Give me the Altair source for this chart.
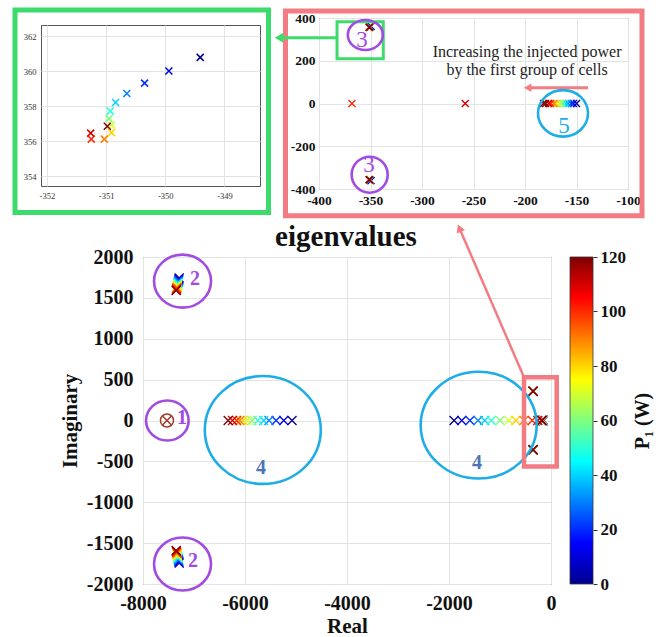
import altair as alt
import pandas as pd

SERIF = "Liberation Serif"

# Injected power of the first group of cells (W)
power = [0, 10, 20, 30, 40, 50, 60, 70, 80, 90, 100, 110, 120]

# Eigenvalue branches, one value per power level
mode2_re = [-7290, -7295, -7300, -7305, -7310, -7315, -7320, -7325, -7330, -7335, -7340, -7345, -7350]
mode2_im = [1745, 1730, 1715, 1700, 1688, 1676, 1664, 1652, 1640, 1628, 1615, 1600, 1590]
mode3_re = [-349.41, -349.94, -350.35, -350.65, -350.84, -350.93, -350.95, -350.91, -350.91, -351.03, -351.25, -351.26, -350.98]
mode3_im = [360.80, 360.02, 359.33, 358.74, 358.22, 357.73, 357.30, 356.93, 356.50, 356.13, 356.13, 356.47, 356.86]
mode4a_re = [-5078, -5240, -5390, -5530, -5635, -5745, -5863, -5955, -6035, -6100, -6165, -6245, -6330]
mode4b_re = [-1900, -1750, -1590, -1430, -1300, -1170, -1000, -830, -690, -530, -368, -258, -182]
mode5_re = [-150, -153, -155, -158, -160, -163, -165, -167, -170, -172, -175, -177, -180]
mode1_re = [-7530.0]
mode1_im = [0.0]

# Tick values
main_xticks = [-8000, -6000, -4000, -2000, 0]
main_yticks = [-2000, -1500, -1000, -500, 0, 500, 1000, 1500, 2000]
cbar_ticks = [0, 20, 40, 60, 80, 100, 120]
zoom_xticks = [-400, -350, -300, -250, -200, -150, -100]
zoom_yticks = [-400, -200, 0, 200, 400]
detail_xticks = [-352, -351, -350, -349]
detail_yticks = [354, 356, 358, 360, 362]

# Jet colour map stops
jet_pos = [0, 15, 45, 75, 105, 120]
jet_col = ["#00008F", "#0000FF", "#00FFFF", "#FFFF00", "#FF0000", "#800000"]

rows = []
for i, p in enumerate(power):
    rows += [
        (p, mode2_re[i], mode2_im[i]), (p, mode2_re[i], -mode2_im[i]),
        (p, mode3_re[i], mode3_im[i]), (p, mode3_re[i], -mode3_im[i]),
        (p, mode4a_re[i], 0.0), (p, mode4b_re[i], 0.0), (p, mode5_re[i], 0.0),
    ]
eig = pd.DataFrame(rows, columns=["P", "re", "im"])
mode1 = pd.DataFrame({"re": mode1_re, "im": mode1_im})
one = pd.DataFrame({"a": [0]})

PURPLE = "#A24BE3"
CYAN = "#1EADE6"
STEEL = "#4A76B8"
PINK = "#F37B82"
GREEN = "#3DDB6B"
BROWN = "#A33A2A"
XMARK = "M -1 -1 L 1 1 M -1 1 L 1 -1"

cscale = alt.Scale(domain=jet_pos, range=jet_col, interpolate="rgb")


def ellipse(k):
    return f"M -1 0 A 1 {k} 0 1 1 1 0 A 1 {k} 0 1 1 -1 0 Z"


def axis(values, title=None, size=20, bold=True, lpad=10, color="#111", **kw):
    return alt.Axis(values=values, title=title, labelExpr="toString(datum.value)",
                    labelFont=SERIF, labelFontSize=size,
                    labelFontWeight="bold" if bold else "normal", labelColor=color,
                    titleFont=SERIF, titleFontSize=21, titleFontWeight="bold", titleColor="#111",
                    ticks=False, domain=False, grid=True, gridColor="#e3e3e3",
                    labelFlush=False, labelOverlap=False, labelPadding=lpad, **kw)


def anchor(x1, x2, y1, y2):
    # transparent diagonal that fixes the extent of a panel in the layout
    return alt.Chart(one).mark_rule(strokeOpacity=0).encode(
        x=alt.value(x1), x2=alt.value(x2), y=alt.value(y1), y2=alt.value(y2))


def spacer(w, h):
    return anchor(0, w, 0, h).properties(width=w, height=h,
                                         view=alt.ViewBackground(stroke="transparent"))


# ---------------- main eigenvalue map ----------------
xs_m = alt.Scale(domain=[-8000, 0], nice=False, zero=False)
ys_m = alt.Scale(domain=[-2000, 2000], nice=False, zero=False)
ax_mx = axis(main_xticks, "Real", lpad=9, titlePadding=2)
ax_my = axis(main_yticks, "Imaginary", titlePadding=6)
XM = lambda f: alt.X(f, type="quantitative", scale=xs_m, axis=ax_mx)
YM = lambda f: alt.Y(f, type="quantitative", scale=ys_m, axis=ax_my)

main_pts = alt.Chart(eig).mark_point(shape=XMARK, filled=False, size=81, strokeWidth=1.3, opacity=1).encode(
    x=XM("re"), y=YM("im"),
    color=alt.Color("P:Q", scale=cscale, legend=None),
)
mode1_circ = alt.Chart(mode1).mark_point(shape="circle", filled=False, size=169, strokeWidth=1.5,
                                         color=BROWN, opacity=1).encode(x=XM("re"), y=YM("im"))
mode1_x = alt.Chart(mode1).mark_point(shape=XMARK, filled=False, size=70, strokeWidth=1.5,
                                      color=BROWN, opacity=1).encode(x=XM("re"), y=YM("im"))

main_rings = pd.DataFrame({
    "re": [-7225, -7225, -7523, -5651, -1418],
    "im": [1705, -1755, 0, -116, -57],
    "d": [57, 57, 42.6, 116, 116],
    "k": [0.93, 0.93, 0.94, 0.93, 0.92],
    "col": [PURPLE, PURPLE, PURPLE, CYAN, CYAN],
})
main_rings["size"] = main_rings["d"] ** 2
main_rings["shape"] = main_rings["k"].map(ellipse)
rings_m = alt.Chart(main_rings).mark_point(filled=False, strokeWidth=2.6, opacity=1).encode(
    x=XM("re"), y=YM("im"),
    size=alt.Size("size:Q", scale=None),
    shape=alt.Shape("shape:N", scale=None),
    color=alt.Color("col:N", scale=None),
)
main_tags = pd.DataFrame({
    "re": [-6980, -7020, -7235, -5686, -1451],
    "im": [1737, -1713, 31, -587, -514],
    "t": ["2", "2", "1", "4", "4"],
    "col": [PURPLE, PURPLE, PURPLE, STEEL, STEEL],
})
tags_m = alt.Chart(main_tags).mark_text(font=SERIF, fontSize=20, fontWeight="bold").encode(
    x=XM("re"), y=YM("im"), text="t:N", color=alt.Color("col:N", scale=None))

box = pd.DataFrame({"x1": [-529], "x2": [112], "y1": [528], "y2": [-563]})
box_m = alt.Chart(box).mark_rect(fill="transparent", stroke=PINK, strokeWidth=4.5).encode(
    x=XM("x1"), x2="x2", y=YM("y1"), y2="y2")
link = pd.DataFrame({"x1": [-529], "y1": [528], "x2": [-1796], "y2": [2353]})
link_line = alt.Chart(link).mark_rule(color=PINK, strokeWidth=2.5).encode(
    x=XM("x1"), y=YM("y1"), x2="x2", y2="y2")
link_head = alt.Chart(link).mark_point(shape="triangle-up", filled=True, size=81, angle=337,
                                       color=PINK, opacity=1).encode(x=XM("x2"), y=YM("y2"))

title_m = alt.Chart(one).mark_text(text="eigenvalues", font=SERIF, fontSize=29, fontWeight="bold",
                                   baseline="top", color="#111").encode(
    x=alt.value(203), y=alt.value(-34))

stops = [alt.GradientStop(color=c, offset=p / 120) for p, c in zip(jet_pos, jet_col)]
cbar = alt.Chart(pd.DataFrame({"lo": [0], "hi": [120]})).mark_rect(
    fill=alt.LinearGradient(gradient="linear", stops=stops, x1=0, x2=0, y1=1, y2=0),
    stroke="#333", strokeWidth=0.8,
).encode(
    x=alt.value(427), x2=alt.value(450),
    y=alt.Y("lo:Q", scale=alt.Scale(domain=[0, 120], nice=False, zero=False),
            axis=alt.Axis(orient="right", offset=42, values=cbar_ticks, title="P₁ (W)",
                          labelFont=SERIF, labelFontSize=17, labelFontWeight="bold", labelColor="#111",
                          titleFont=SERIF, titleFontSize=20, titleFontWeight="bold", titleColor="#111",
                          titleAngle=270, titleBaseline="top", titlePadding=7,
                          ticks=True, tickSize=4, tickColor="#333", domain=False, grid=False,
                          labelPadding=3, labelFlush=False, labelOverlap=False)),
    y2="hi:Q",
)

main_layers = alt.layer(main_pts, mode1_circ, mode1_x, rings_m, tags_m, box_m, link_line, link_head,
                        title_m, anchor(-97, 505, -35, 382))
main = alt.layer(main_layers, cbar).resolve_scale(y="independent").properties(width=408, height=327)

# ---------------- zoom on the slow modes ----------------
xs_r = alt.Scale(domain=[-400, -100], nice=False, zero=False)
ys_r = alt.Scale(domain=[-400, 400], nice=False, zero=False)
ax_rx = axis(zoom_xticks, size=13.5, lpad=4)
ax_ry = axis(zoom_yticks, size=13.5, lpad=4)
XR = lambda f: alt.X(f, type="quantitative", scale=xs_r, axis=ax_rx)
YR = lambda f: alt.Y(f, type="quantitative", scale=ys_r, axis=ax_ry)

r_pts = alt.Chart(eig).mark_point(shape=XMARK, filled=False, size=49, strokeWidth=1.4, opacity=1, clip=True).encode(
    x=XR("re"), y=YR("im"),
    color=alt.Color("P:Q", scale=cscale, legend=None),
)
r_frame = alt.Chart(one).mark_rect(fill="transparent", stroke=PINK, strokeWidth=5).encode(
    x=alt.value(-33.5), x2=alt.value(323), y=alt.value(-7), y2=alt.value(197.7))
gbox = pd.DataFrame({"x1": [-382.5], "x2": [-337.6], "y1": [382.7], "y2": [209.6]})
r_gbox = alt.Chart(gbox).mark_rect(fill="transparent", stroke=GREEN, strokeWidth=3).encode(
    x=XR("x1"), x2="x2", y=YR("y1"), y2="y2")
garrow = pd.DataFrame({"x1": [-382.5], "x2": [-438.8], "y": [307.8]})
r_gline = alt.Chart(garrow).mark_rule(color=GREEN, strokeWidth=3).encode(x=XR("x1"), x2="x2", y=YR("y"))
r_ghead = alt.Chart(garrow).mark_point(shape="triangle-left", filled=True, size=100, color=GREEN,
                                       opacity=1).encode(x=XR("x2"), y=YR("y"))
parrow = pd.DataFrame({"x1": [-138.8], "x2": [-197.4], "y": [74]})
r_pline = alt.Chart(parrow).mark_rule(color=PINK, strokeWidth=3).encode(x=XR("x1"), x2="x2", y=YR("y"))
r_phead = alt.Chart(parrow).mark_point(shape="triangle-left", filled=True, size=74, color=PINK,
                                       opacity=1).encode(x=XR("x2"), y=YR("y"))
note = pd.DataFrame({"x": [-198, -198], "y": [218, 134.5],
                     "t": ["Increasing the injected power", "by the first group of cells"]})
r_note = alt.Chart(note).mark_text(font=SERIF, fontSize=16, baseline="alphabetic", color="#222").encode(
    x=XR("x"), y=YR("y"), text="t:N")
zoom_rings = pd.DataFrame({
    "re": [-355, -350.8, -163.1],
    "im": [320.5, -333, -46],
    "d": [35, 36, 50],
    "k": [0.86, 1.0, 0.93],
    "col": [PURPLE, PURPLE, CYAN],
})
zoom_rings["size"] = zoom_rings["d"] ** 2
zoom_rings["shape"] = zoom_rings["k"].map(ellipse)
r_rings = alt.Chart(zoom_rings).mark_point(filled=False, strokeWidth=2.6, opacity=1).encode(
    x=XR("re"), y=YR("im"),
    size=alt.Size("size:Q", scale=None),
    shape=alt.Shape("shape:N", scale=None),
    color=alt.Color("col:N", scale=None),
)
zoom_tags = pd.DataFrame({"re": [-358.3, -351.5, -162.1], "im": [297, -287.7, -103.9],
                          "t": ["3", "3", "5"], "col": [PURPLE, PURPLE, CYAN]})
r_tags = alt.Chart(zoom_tags).mark_text(font=SERIF, fontSize=23).encode(
    x=XR("re"), y=YR("im"), text="t:N", color=alt.Color("col:N", scale=None))

zoom = alt.layer(r_pts, r_frame, r_gbox, r_gline, r_ghead, r_pline, r_phead, r_note, r_rings, r_tags,
                 anchor(-46, 334, -14, 202)).properties(width=309, height=171)

# ---------------- detail of the upper mode 3 trajectory ----------------
xs_l = alt.Scale(domain=[-352.1, -348.4], nice=False, zero=False)
ys_l = alt.Scale(domain=[353.45, 362.65], nice=False, zero=False)
l_pts = alt.Chart(eig).mark_point(shape=XMARK, filled=False, size=49, strokeWidth=1.5, opacity=1, clip=True).encode(
    x=alt.X("re:Q", scale=xs_l, axis=axis(detail_xticks, size=8.5, bold=False, lpad=5, color="#333")),
    y=alt.Y("im:Q", scale=ys_l, axis=axis(detail_yticks, size=8.5, bold=False, lpad=5, color="#333")),
    color=alt.Color("P:Q", scale=cscale, legend=None),
)
l_frame = alt.Chart(one).mark_rect(fill="transparent", stroke=GREEN, strokeWidth=5).encode(
    x=alt.value(-26), x2=alt.value(227.5), y=alt.value(-15), y2=alt.value(187.5))
detail = alt.layer(l_pts, l_frame, anchor(-40, 230, -21, 193)).properties(width=219, height=161)

# ---------------- arrangement ----------------
left_col = alt.vconcat(spacer(1, 1), detail, spacing=0)
right_col = alt.vconcat(spacer(1, 1), zoom, spacing=0)
top = alt.hconcat(left_col, right_col, spacing=0)
bottom = alt.hconcat(spacer(3, 1), main, spacing=0)

chart = alt.vconcat(top, bottom, spacing=0).properties(
    padding={"left": 0, "top": 0, "right": 0, "bottom": 0}
).configure(font=SERIF, padding=0).configure_view(stroke="#555", strokeWidth=1)

chart.save("out.html", embed_options={"renderer": "svg", "actions": False})
